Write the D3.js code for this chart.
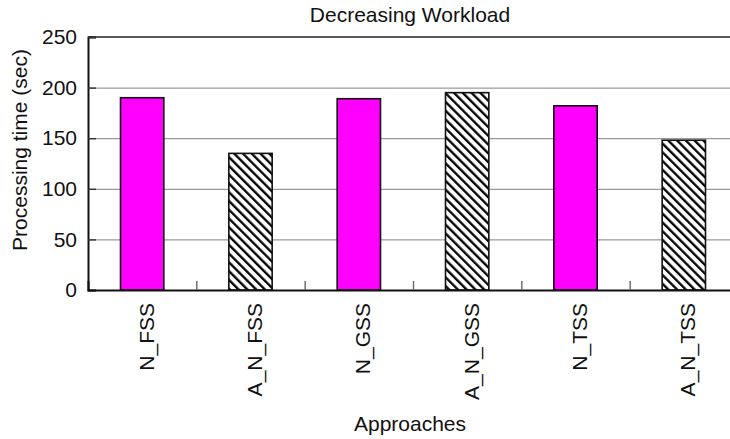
<!DOCTYPE html>
<html>
<head>
<meta charset="utf-8">
<script src="https://cdn.jsdelivr.net/npm/d3@7"></script>
<style>
  html, body { margin: 0; padding: 0; background: #fff; }
  svg { display: block; font-family: "Liberation Sans", Arial, sans-serif; }
</style>
</head>
<body>
<svg id="chart" width="730" height="439"></svg>
<script>
// Processing time per approach under a decreasing workload
const categories = ["N_FSS", "A_N_FSS", "N_GSS", "A_N_GSS", "N_TSS", "A_N_TSS"];
const times = [190, 135, 189, 195, 182, 148];
const yTicks = [0, 50, 100, 150, 200, 250];
const gridTicks = [50, 100, 150, 200];

const plot = { left: 88, top: 37, right: 738, bottom: 290 };
const fontSize = 21;

const svg = d3.select("#chart");

// hatch for the adaptive ("A_") approaches
const defs = svg.append("defs");
defs.append("pattern")
  .attr("id", "hatch")
  .attr("patternUnits", "userSpaceOnUse")
  .attr("width", 6.2).attr("height", 6.2)
  .attr("patternTransform", "rotate(-45)")
  .call(p => {
    p.append("rect").attr("width", 6.2).attr("height", 6.2).attr("fill", "#fff");
    p.append("line").attr("x1", 1.2).attr("y1", 0).attr("x2", 1.2).attr("y2", 6.2)
      .attr("stroke", "#000").attr("stroke-width", 2.3);
  });

const x = d3.scaleBand()
  .domain(categories)
  .range([plot.left, plot.right])
  .paddingInner(0.6)
  .paddingOuter(0.3);

const y = d3.scaleLinear()
  .domain([0, 250])
  .range([plot.bottom, plot.top]);

// band boundaries for the bottom tick marks
const slot = d3.scaleLinear().domain([0, categories.length]).range([plot.left, plot.right]);

// gridlines
svg.append("g")
  .attr("transform", `translate(${plot.left},0)`)
  .call(d3.axisLeft(y).tickValues(gridTicks).tickSize(-(plot.right - plot.left)).tickFormat(""))
  .call(g => g.select(".domain").remove())
  .call(g => g.selectAll(".tick line").attr("stroke", "#9a9a9a").attr("stroke-width", 1.3));

// top frame line
svg.append("line")
  .attr("x1", plot.left).attr("x2", plot.right)
  .attr("y1", y(250)).attr("y2", y(250))
  .attr("stroke", "#222").attr("stroke-width", 1.5);

// bars
svg.append("g")
  .selectAll("rect")
  .data(categories.map((c, i) => ({ name: c, value: times[i] })))
  .join("rect")
  .attr("x", d => x(d.name))
  .attr("y", d => y(d.value))
  .attr("width", x.bandwidth())
  .attr("height", d => y(0) - y(d.value))
  .attr("fill", d => d.name.startsWith("A_") ? "url(#hatch)" : "#ff00ff")
  .attr("stroke", "#111")
  .attr("stroke-width", 1.6);

// y axis
svg.append("g")
  .attr("transform", `translate(${plot.left},0)`)
  .call(d3.axisLeft(y).tickValues(yTicks).tickSize(-8).tickPadding(11))
  .call(g => g.select(".domain").attr("stroke", "#111").attr("stroke-width", 2))
  .call(g => g.selectAll(".tick line").attr("stroke", "#333").attr("stroke-width", 1.4))
  .call(g => g.selectAll(".tick text")
    .attr("font-size", fontSize).attr("font-family", "Liberation Sans, Arial, sans-serif").attr("fill", "#111"));

// x axis: boundary ticks
svg.append("g")
  .attr("transform", `translate(0,${plot.bottom})`)
  .call(d3.axisBottom(slot).tickValues(d3.range(1, categories.length + 1)).tickSize(-9).tickFormat(""))
  .call(g => g.select(".domain").attr("stroke", "#111").attr("stroke-width", 2))
  .call(g => g.selectAll(".tick line").attr("stroke", "#666").attr("stroke-width", 1.4));

// x axis: category labels
svg.append("g")
  .attr("transform", `translate(0,${plot.bottom})`)
  .call(d3.axisBottom(x).tickSize(0).tickPadding(0))
  .call(g => g.select(".domain").remove())
  .call(g => g.selectAll(".tick text")
    .attr("font-size", fontSize).attr("font-family", "Liberation Sans, Arial, sans-serif").attr("fill", "#111")
    .attr("transform", "rotate(-90)")
    .attr("text-anchor", "end")
    .attr("x", -13)
    .attr("y", 0)
    .attr("dy", "0.55em"));

// title
svg.append("text")
  .attr("x", 410).attr("y", 21.5)
  .attr("text-anchor", "middle")
  .attr("font-size", fontSize).attr("fill", "#111")
  .text("Decreasing Workload");

// axis titles
svg.append("text")
  .attr("x", 410).attr("y", 431)
  .attr("text-anchor", "middle")
  .attr("font-size", fontSize).attr("fill", "#111")
  .text("Approaches");

svg.append("text")
  .attr("transform", `translate(27,150) rotate(-90)`)
  .attr("text-anchor", "middle")
  .attr("font-size", fontSize).attr("fill", "#111")
  .text("Processing time (sec)");
</script>
</body>
</html>
